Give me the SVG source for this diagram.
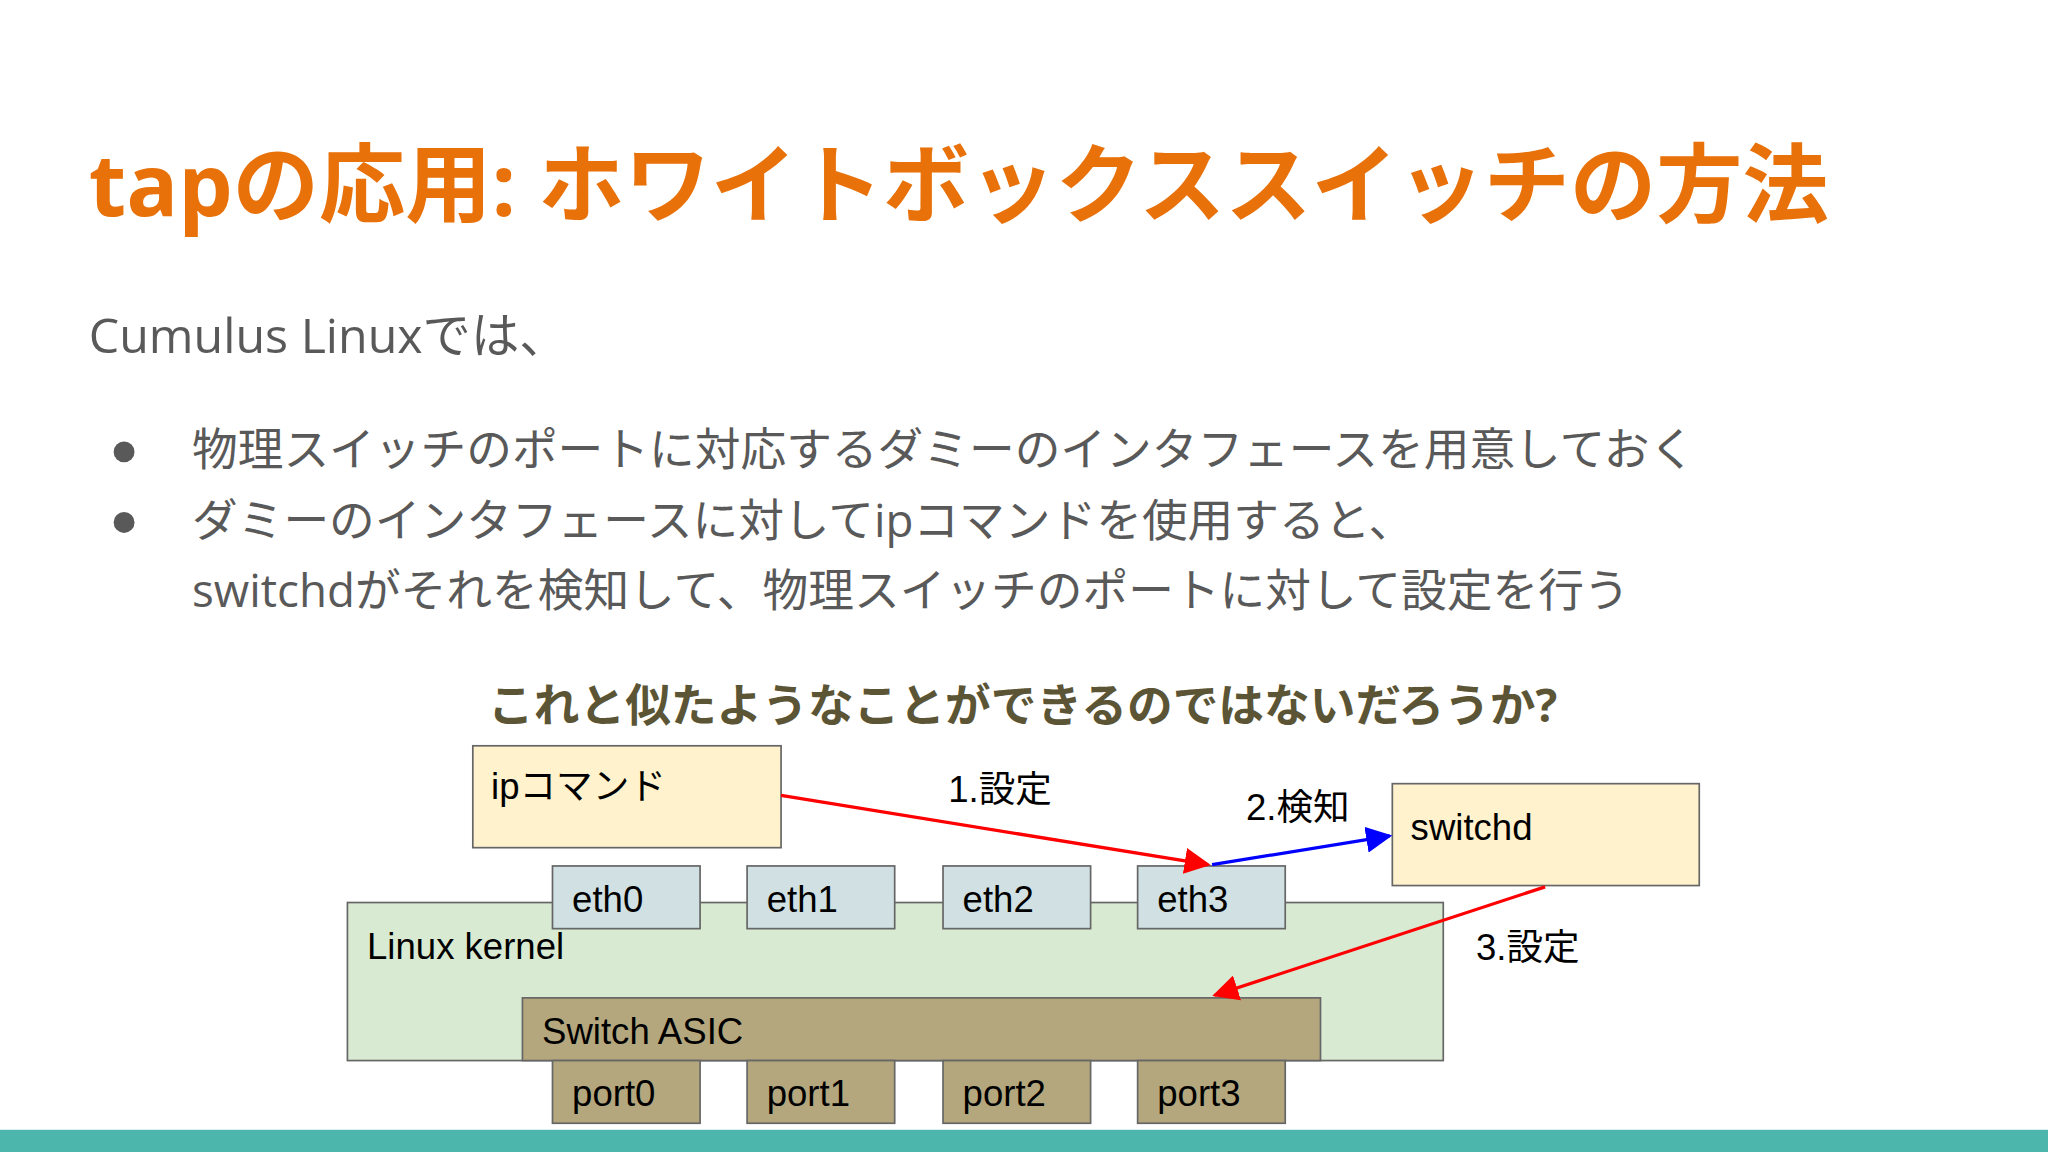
<svg xmlns="http://www.w3.org/2000/svg" width="2048" height="1152" viewBox="0 0 2048 1152">
<style>
.j{font-family:"Open Sans","Noto Sans CJK JP",sans-serif}
.a{font-family:"Liberation Sans","Noto Sans CJK JP",sans-serif;font-size:28px;fill:#000}
.b{stroke:#666;stroke-width:1.3}
.y{fill:#fff2cc}.e{fill:#d0e0e3}.p{fill:#b4a77d}
</style>
<defs>
<marker id="mr" viewBox="0 0 10 10" refX="9" refY="5" markerWidth="8" markerHeight="8" orient="auto"><path d="M0,0L10,5L0,10z" fill="#f00"/></marker>
<marker id="mb" viewBox="0 0 10 10" refX="9" refY="5" markerWidth="8" markerHeight="8" orient="auto"><path d="M0,0L10,5L0,10z" fill="#00f"/></marker>
</defs>
<rect width="2048" height="1152" fill="#fff"/>
<g transform="scale(1.30612)">
<text x="68" y="165" class="j" font-size="66" font-weight="bold" fill="#e8710a">tapの応用: ホワイトボックススイッチの方法</text>
<text x="68" y="270" class="j" font-size="37" fill="#595959">Cumulus Linuxでは、</text>
<g class="j" font-size="35" fill="#595959">
<circle cx="95" cy="346" r="8"/><circle cx="95" cy="400" r="8"/>
<text x="147" y="357">物理スイッチのポートに対応するダミーのインタフェースを用意しておく</text>
<text x="147" y="411">ダミーのインタフェースに対してipコマンドを使用すると、</text>
<text x="147" y="465">switchdがそれを検知して、物理スイッチのポートに対して設定を行う</text>
</g>
<text x="783" y="553" text-anchor="middle" class="j" font-size="35" font-weight="bold" fill="#5b5536">これと似たようなことができるのではないだろうか?</text>
<g id="kernel"><rect x="266" y="691" width="839" height="121" fill="#d9ead3" class="b"/><text x="281" y="734" class="a">Linux kernel</text></g>
<g id="ip"><rect x="362" y="571" width="236" height="78" class="y b"/><text x="376" y="612" class="a">ipコマンド</text></g>
<g id="switchd"><rect x="1066" y="600" width="235" height="78" class="y b"/><text x="1080" y="643" class="a">switchd</text></g>
<g id="eth0"><rect x="423" y="663" width="113" height="48" class="e b"/><text x="438" y="698" class="a">eth0</text></g>
<g id="eth1"><rect x="572" y="663" width="113" height="48" class="e b"/><text x="587" y="698" class="a">eth1</text></g>
<g id="eth2"><rect x="722" y="663" width="113" height="48" class="e b"/><text x="737" y="698" class="a">eth2</text></g>
<g id="eth3"><rect x="871" y="663" width="113" height="48" class="e b"/><text x="886" y="698" class="a">eth3</text></g>
<g id="asic"><rect x="400" y="764" width="611" height="48" class="p b"/><text x="415" y="799" class="a">Switch ASIC</text></g>
<g id="port0"><rect x="423" y="812" width="113" height="48" class="p b"/><text x="438" y="847" class="a">port0</text></g>
<g id="port1"><rect x="572" y="812" width="113" height="48" class="p b"/><text x="587" y="847" class="a">port1</text></g>
<g id="port2"><rect x="722" y="812" width="113" height="48" class="p b"/><text x="737" y="847" class="a">port2</text></g>
<g id="port3"><rect x="871" y="812" width="113" height="48" class="p b"/><text x="886" y="847" class="a">port3</text></g>
<g id="connectors" stroke-width="2.5" fill="none">
<line x1="598" y1="609" x2="925" y2="662" stroke="#f00" marker-end="url(#mr)"/>
<line x1="928" y1="662" x2="1064" y2="640" stroke="#00f" marker-end="url(#mb)"/>
<line x1="1183" y1="679" x2="930" y2="762" stroke="#f00" marker-end="url(#mr)"/>
</g>
<text x="726" y="614" class="a">1.設定</text>
<text x="954" y="628" class="a">2.検知</text>
<text x="1130" y="735" class="a">3.設定</text>
<rect x="0" y="865" width="1568" height="20" fill="#4db6ac"/>
</g>
</svg>
